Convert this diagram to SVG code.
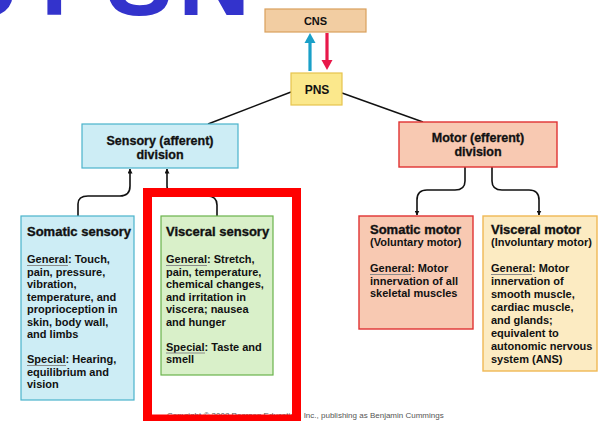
<svg xmlns="http://www.w3.org/2000/svg" width="599" height="421" viewBox="0 0 599 421">
<defs>
<style>
.t{font-family:"Liberation Sans",Arial,sans-serif;font-weight:bold;fill:#111;}
.h{font-size:13px;stroke:#111;stroke-width:0.35;}
.d{font-size:12.5px;stroke:#111;stroke-width:0.3;}
.b{font-size:11px;}
.c{text-anchor:middle;}
.ul{stroke:#8a8a8a;stroke-width:1;}
.con{fill:none;stroke:#111;stroke-width:1.6;}
</style>
<marker id="ah" viewBox="0 0 10 10" refX="9" refY="5" markerWidth="5" markerHeight="5" orient="auto" markerUnits="userSpaceOnUse">
<path d="M0,0 L10,5 L0,10 z" fill="#111"/>
</marker>
</defs>
<rect width="599" height="421" fill="#fff"/>

<text id="title" x="-40 38 76 106 178" y="15" font-family="Liberation Sans,Arial,sans-serif" font-weight="bold" font-size="100" fill="#3333cc">cf SN</text>

<g id="connectors">
<line x1="291" y1="92" x2="208" y2="124" stroke="#111" stroke-width="1.4"/>
<line x1="342" y1="93" x2="423" y2="122" stroke="#111" stroke-width="1.4"/>
<path class="con" d="M78,216 V204 Q78,196 88,196 H120 Q130,196 130,186 V169" marker-end="url(#ah)"/>
<path class="con" d="M217,216 V205 Q217,196 207,196 H177 Q167,196 167,186 V169" marker-end="url(#ah)"/>
<path class="con" d="M465,167 V181 Q465,190 455,190 H427 Q417,190 417,200 V215" marker-end="url(#ah)"/>
<path class="con" d="M492,167 V181 Q492,190 502,190 H529 Q539,190 539,200 V215" marker-end="url(#ah)"/>
<line x1="310" y1="71" x2="310" y2="42" stroke="#1aa0c8" stroke-width="3.2"/>
<path d="M304.5,43 L310,33 L315.5,43 z" fill="#1aa0c8"/>
<line x1="327" y1="33" x2="327" y2="61" stroke="#e8184a" stroke-width="3.2"/>
<path d="M321.5,60 L327,70 L332.5,60 z" fill="#e8184a"/>
</g>

<g id="cns">
<rect x="265" y="9" width="101" height="23" fill="#f2cda2" stroke="#d9a05c" stroke-width="1.2"/>
<text class="t c" x="315.5" y="25" font-size="11">CNS</text>
</g>

<g id="pns">
<rect x="291" y="73" width="51" height="32" fill="#fbe88c" stroke="#e6c44e" stroke-width="1.2"/>
<text class="t c" x="317" y="94" font-size="12">PNS</text>
</g>

<g id="sensory">
<rect x="82" y="124" width="156" height="44" fill="#cdedf5" stroke="#4ab3cb" stroke-width="1.2"/>
<text class="t d c" x="160" y="145">Sensory (afferent)</text>
<text class="t d c" x="160" y="159">division</text>
</g>

<g id="motor">
<rect x="399" y="122" width="158" height="45" fill="#f8c9b2" stroke="#e03232" stroke-width="1.4"/>
<text class="t d c" x="478" y="142">Motor (efferent)</text>
<text class="t d c" x="478" y="156">division</text>
</g>

<g id="somatic-sensory">
<rect x="21" y="216" width="113" height="184" fill="#cdedf5" stroke="#4ab3cb" stroke-width="1.2"/>
<text class="t h" x="27" y="236">Somatic sensory</text>
<g class="t b">
<text x="27" y="263">General: Touch,</text>
<text x="27" y="275.5">pain, pressure,</text>
<text x="27" y="288">vibration,</text>
<text x="27" y="300.5">temperature, and</text>
<text x="27" y="313">proprioception in</text>
<text x="27" y="325.5">skin, body wall,</text>
<text x="27" y="338">and limbs</text>
<text x="27" y="363">Special: Hearing,</text>
<text x="27" y="375.5">equilibrium and</text>
<text x="27" y="388">vision</text>
</g>
<line class="ul" x1="27" y1="265.5" x2="68" y2="265.5"/>
<line class="ul" x1="27" y1="365.5" x2="66" y2="365.5"/>
</g>

<g id="visceral-sensory">
<rect x="161" y="216" width="112" height="159" fill="#d9f0c9" stroke="#6ab34c" stroke-width="1.2"/>
<text class="t h" x="166" y="236">Visceral sensory</text>
<g class="t b">
<text x="166" y="263">General: Stretch,</text>
<text x="166" y="275.5">pain, temperature,</text>
<text x="166" y="288">chemical changes,</text>
<text x="166" y="300.5">and irritation in</text>
<text x="166" y="313">viscera; nausea</text>
<text x="166" y="325.5">and hunger</text>
<text x="166" y="350.5">Special: Taste and</text>
<text x="166" y="363">smell</text>
</g>
<line class="ul" x1="166" y1="265.5" x2="207" y2="265.5"/>
<line class="ul" x1="166" y1="353" x2="205" y2="353"/>
</g>

<g id="somatic-motor">
<rect x="359" y="216" width="114" height="113" fill="#f8c9b2" stroke="#e03232" stroke-width="1.4"/>
<text class="t h" x="370" y="234">Somatic motor</text>
<g class="t b">
<text x="370" y="246">(Voluntary motor)</text>
<text x="370" y="272">General: Motor</text>
<text x="370" y="284.5">innervation of all</text>
<text x="370" y="297">skeletal muscles</text>
</g>
<line class="ul" x1="370" y1="274.5" x2="411" y2="274.5"/>
</g>

<g id="visceral-motor">
<rect x="483" y="216" width="114" height="155" fill="#fcebc2" stroke="#f0b854" stroke-width="1.4"/>
<text class="t h" x="491" y="234">Visceral motor</text>
<g class="t b">
<text x="491" y="246">(Involuntary motor)</text>
<text x="491" y="272">General: Motor</text>
<text x="491" y="285">innervation of</text>
<text x="491" y="298">smooth muscle,</text>
<text x="491" y="311">cardiac muscle,</text>
<text x="491" y="324">and glands;</text>
<text x="491" y="337">equivalent to</text>
<text x="491" y="350">autonomic nervous</text>
<text x="491" y="363">system (ANS)</text>
</g>
<line class="ul" x1="491" y1="274.5" x2="532" y2="274.5"/>
</g>

<text id="copyright" x="167" y="418" font-family="Liberation Sans,Arial,sans-serif" font-size="8" fill="#555">Copyright © 2008 Pearson Education, Inc., publishing as Benjamin Cummings</text>

<rect id="highlight" x="147.5" y="192.5" width="149" height="226.5" fill="none" stroke="#ff0000" stroke-width="9"/>
</svg>
